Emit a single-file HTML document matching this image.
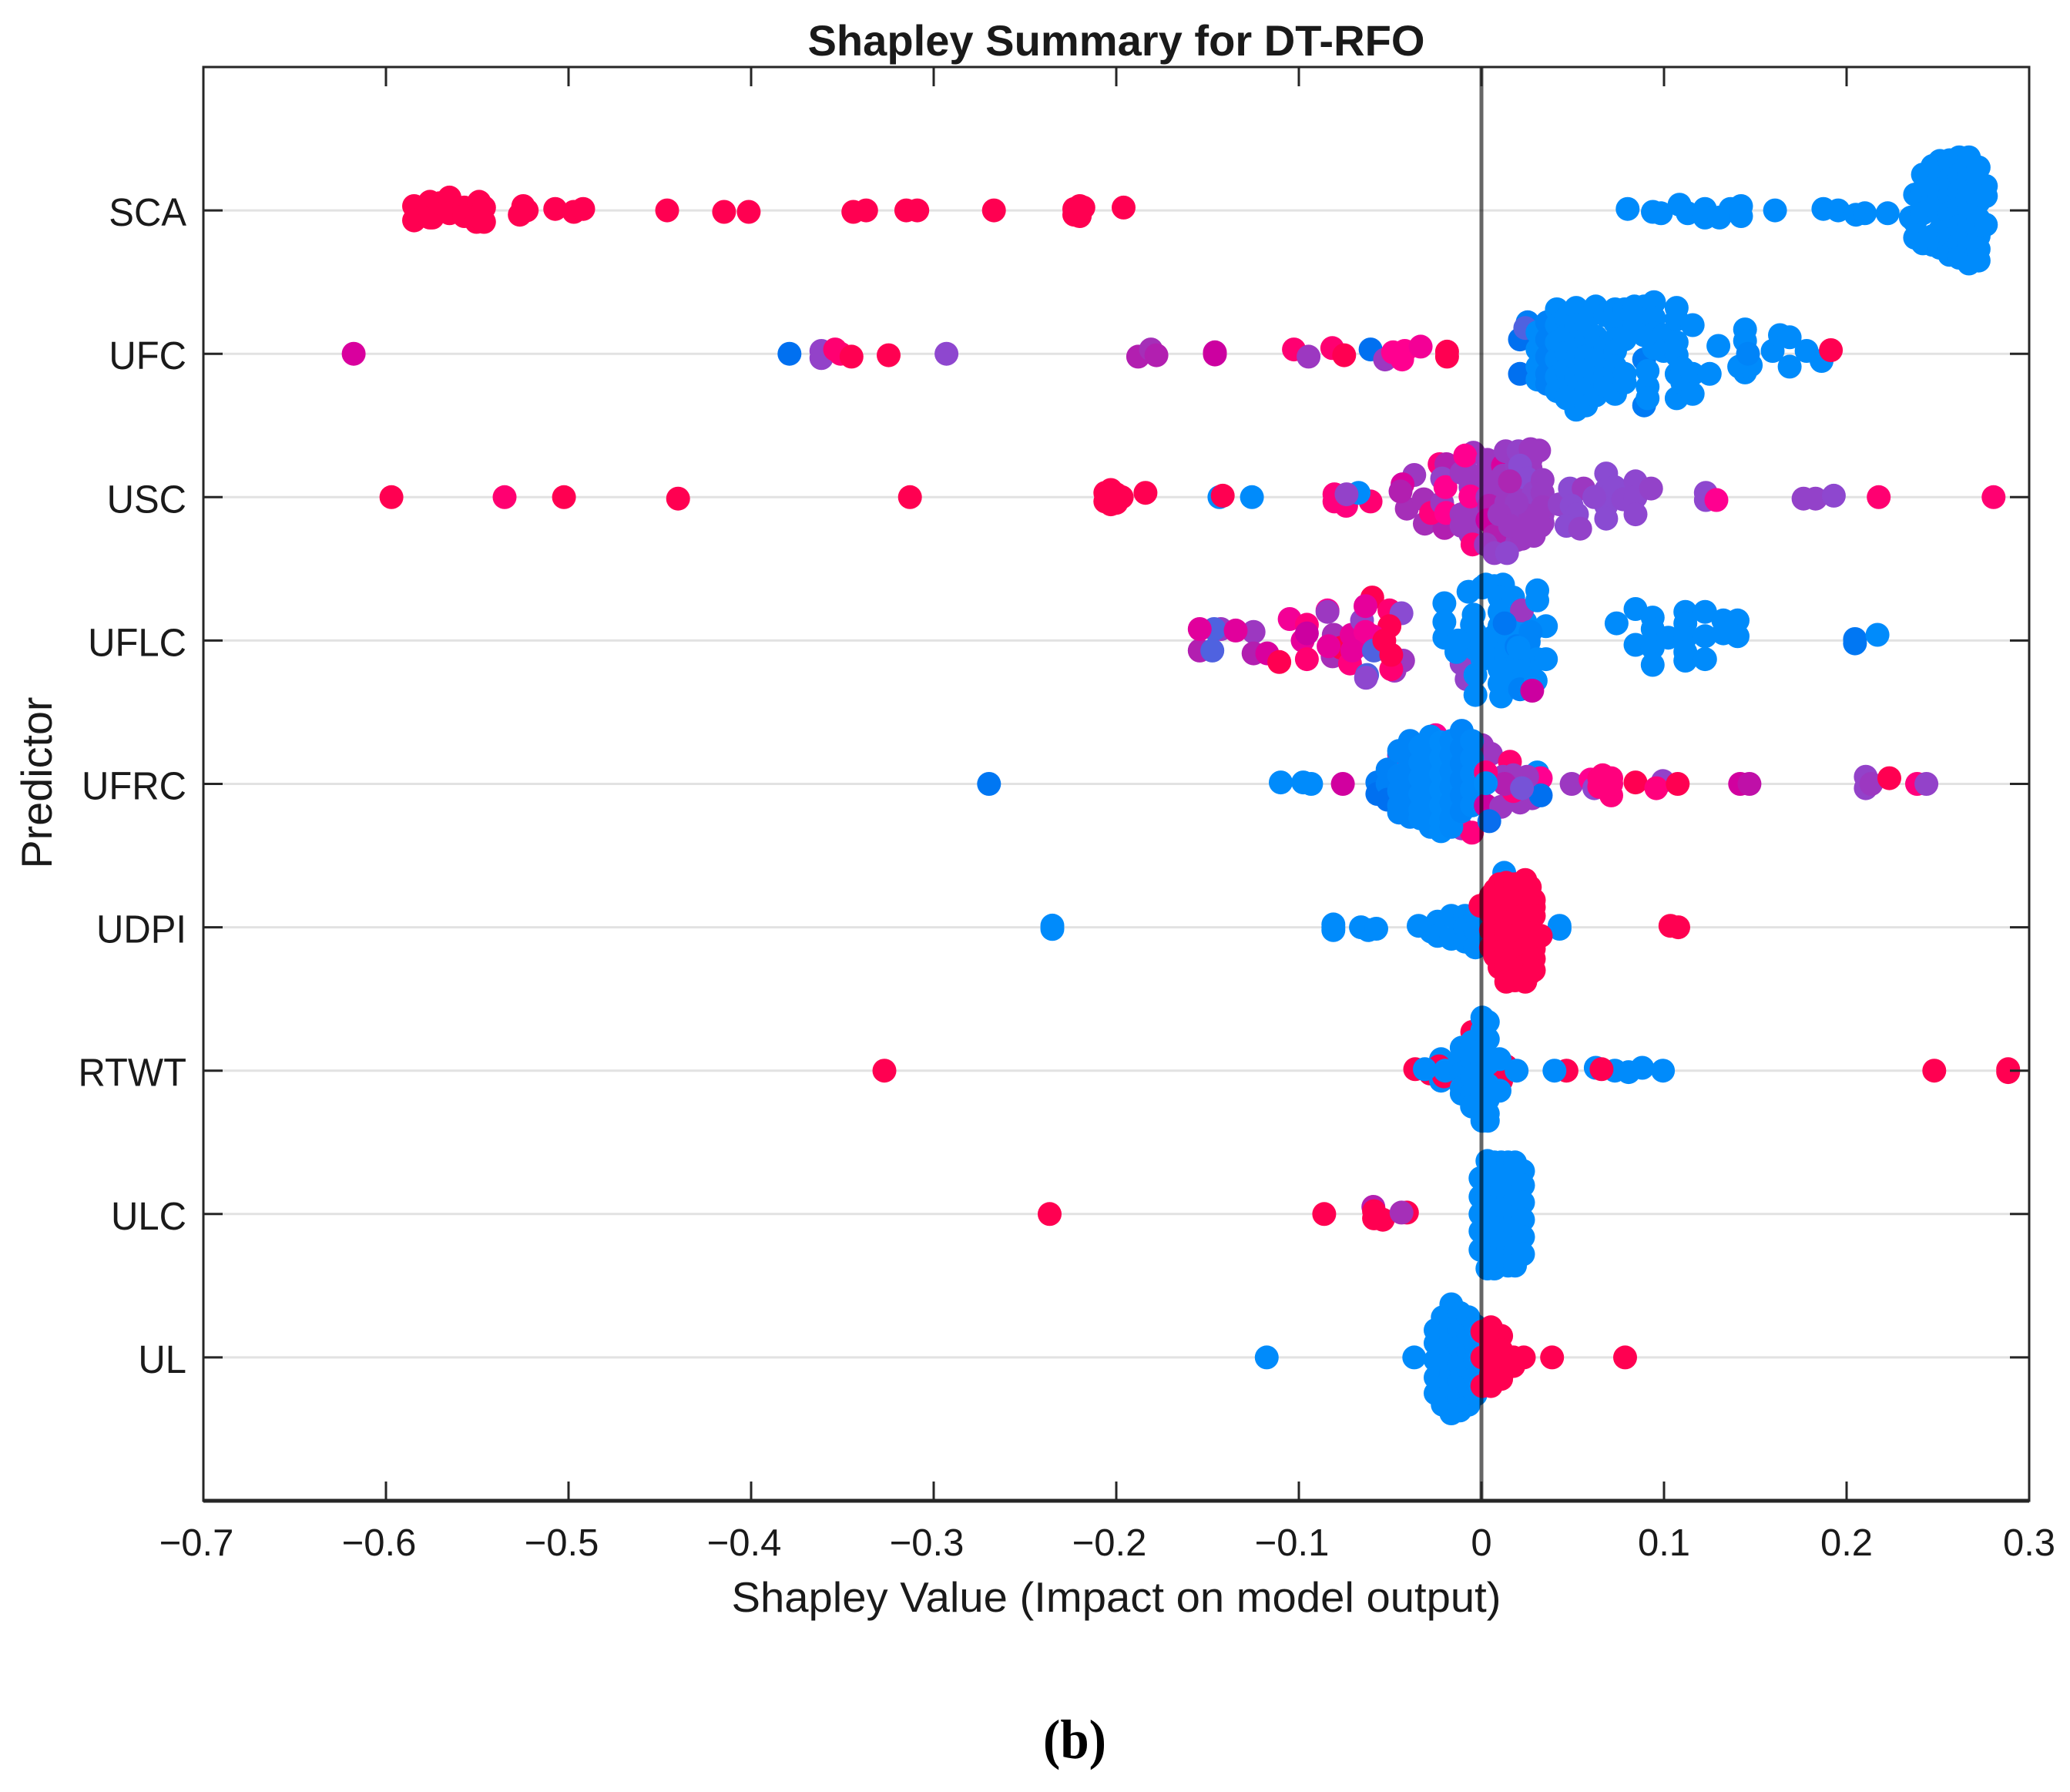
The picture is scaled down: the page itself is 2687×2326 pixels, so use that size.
<!DOCTYPE html>
<html lang="en">
<head>
<meta charset="utf-8">
<title>Shapley Summary for DT-RFO</title>
<style>
html,body{margin:0;padding:0;background:#fff;}
svg{display:block;}
text{font-family:"Liberation Sans",sans-serif;fill:#1a1a1a;}
</style>
</head>
<body>
<svg id="chart" xmlns="http://www.w3.org/2000/svg" width="2687" height="2326" viewBox="0 0 2687 2326">
<rect x="0" y="0" width="2687" height="2326" fill="#fff"/>
<text x="1449" y="72" text-anchor="middle" font-size="56" font-weight="700" textLength="801" lengthAdjust="spacingAndGlyphs">Shapley Summary for DT-RFO</text>
<text x="1449" y="2092" text-anchor="middle" font-size="55" textLength="999" lengthAdjust="spacingAndGlyphs">Shapley Value (Impact on model output)</text>
<text transform="translate(67,1016) rotate(-90)" text-anchor="middle" font-size="56" textLength="223" lengthAdjust="spacingAndGlyphs">Predictor</text>
<text x="1395" y="2282" text-anchor="middle" font-size="72" font-weight="700" textLength="82" lengthAdjust="spacingAndGlyphs" style="font-family:'Liberation Serif',serif;fill:#000">(b)</text>
<g id="grid"></g>
<g id="points"></g>
<g id="axes"></g>
</svg>
<script>
// Each entry: [shapley value, [vertical jitter in category units...], normalised feature value]
const categories = ["SCA","UFC","USC","UFLC","UFRC","UDPI","RTWT","ULC","UL"];
const xTicks = [-0.7,-0.6,-0.5,-0.4,-0.3,-0.2,-0.1,0,0.1,0.2,0.3];
const xTickLabels = ["\u22120.7","\u22120.6","\u22120.5","\u22120.4","\u22120.3","\u22120.2","\u22120.1","0","0.1","0.2","0.3"];

const valuesSCA = [
[-.5846,[.03,-.07],1],[-.5759,[.06,-.05],1],[-.5746,[-.05],1],[-.5705,[.05],1],[-.5652,[.09,-.02],1],[-.5571,[.02,-.04],1],[-.5490,[.06],1],[-.5463,[.02],1],[-.5504,[-.08],1],[-.5463,[-.08],1],
[-.5248,[.03],1],[-.5267,[-.03],1],[-.5229,[0],1],[-.5073,[.01],1],[-.4971,[-.01],1],[-.4920,[.01],1],[-.4460,[0],1],[-.4148,[-.01],1],[-.4013,[-.01],1],
[-.344,[-.01],1],[-.337,[0],1],[-.315,[0],1],[-.309,[0],1],[-.267,[0],1],[-.223,[.01,-.03],1],[-.220,[.03,-.04],1],[-.218,[.02],1],[-.196,[.02],1],
[.0801,[.01],0],[.0939,[-.01],0],[.0983,[-.02],0],[.1085,[.04],0],[.1130,[-.02],0],[.1224,[.01,-.05],0],[.1304,[-.05],0],[.1364,[.01],0],[.1422,[.03,-.04],0],[.1608,[0],0],
[.1873,[.01],0],[.1954,[0],0],[.2051,[-.03],0],[.21,[-.02],0],[.2225,[-.02],0],[.2352,[-.05],0],
[.2375,[.11,-.19,-.08],0],[.2418,[.25,.14,.04,-.02,-.23],0],[.2471,[.31,.18,.06,-.18,-.24],0],[.2511,[.345,.22,.1,-.03,-.14,-.26],0],[.2564,[.35,.22,.1,-.02,-.14,-.26,-.31],0],[.2617,[.37,.25,.13,.01,-.11,-.23,-.33],0],[.2670,[.37,.25,.13,.01,-.11,-.23,-.37],0],[.2723,[.30,.18,.06,-.06,-.18,-.27,-.35],0],[.2763,[.17,.1,-.1],0]
];
const valuesUFC = [
[-.6177,[0],.75],[-.379,[0],.08],[-.3615,[.02,-.03],.45],[-.354,[.03],.95],[-.351,[0],.95],[-.345,[-.02],1],[-.3247,[-.01],1],[-.293,[0],.42],
[-.188,[-.02],.6],[-.181,[.03],.55],[-.178,[-.01],.6],[-.146,[.01,-.005],.7],[-.1027,[.03],.95],[-.0947,[-.02],.5],[-.0817,[.04],.95],[-.0752,[-.01],1],
[-.0607,[.03],.08],[-.0528,[-.04],.5],[-.0484,[.01],.9],[-.0434,[-.04],.9],[-.042,[.02],.9],[-.0333,[.05],.85],[-.0188,[.015,-.02],1],
[.0211,[.10,-.14],.08],[.0253,[.22],.04],[.0240,[.18],.25],[.0307,[.15,.03,-.09,-.18],0],[.036,[.22,.1,-.02,-.14,-.21],.03],[.0413,[.31,.2,.08,-.04,-.16,-.26],0],[.0466,[.25,.13,.01,-.11,-.23,-.31],0],[.0519,[.32,.2,.08,-.04,-.16,-.28,-.39],0],[.0573,[.22,.1,-.02,-.14,-.26,-.36],0],[.0626,[.33,.12,-.05,-.17,-.29],0],[.0679,[.27,.05,-.13,-.22],0],[.0732,[.31,.22,.1,.02,-.09,-.18,-.28],0],[.0785,[.31,.1,-.14,-.2],0],[.0838,[.33,.2],0],[.0891,[.33,.24,.13],0],[.0891,[-.04,-.36],.05],[.0945,[.36,.25,.14,.04],0],[.0910,[-.12,-.23,-.31],0],[.0998,[.13,.02],0],[.1069,[.32,.24,.08,-.01,-.14,-.31],0],[.11,[-.1,-.2],0],[.1157,[.2,-.14,-.28],0],[.125,[-.14],0],[.1298,[.055],0],[.1444,[.17,.09,-.13],0],[.1412,[-.09],0],[.1475,[-.08],0],[.146,[0],.02],[.1595,[.02],0],[.1635,[.13],0],[.1688,[.115,-.09],0],[.1781,[.02],0],[.1863,[-.05],0],[.1914,[.025],1]
];
const valuesUSC = [
[-.597,[0],1],[-.535,[0],.95],[-.5025,[0],1],[-.44,[-.01],1],[-.313,[0],1],[-.206,[.03,-.03],1],[-.203,[.05,-.05],1],[-.2,[.02,-.04],1],[-.197,[0],1],[-.184,[.03],1],
[-.1435,[0],0],[-.1417,[.01],1],[-.1257,[0],0],[-.0805,[.02,-.03],.93],[-.0741,[-.06],.93],[-.0607,[-.03],.95],[-.0673,[.03],0],[-.0739,[.02],.45],
[-.0368,[.155],.5],[-.0409,[-.08],.55],[-.0316,[-.015],.55],[-.031,[-.185],.55],[-.0202,[-.215],.6],[-.0432,[.09],.75],[-.0443,[.04],.6],[-.0229,[.23],.93],[-.0192,[.23],.6],[-.0276,[-.11],.93],[-.0215,[.13],.45],[-.0215,[-.04],.5],[-.0193,[-.11],.9],[-.0197,[.07],.9],
[-.0044,[.31],.5],[-.006,[.155,.07,-.07,-.12,-.26],.5],[-.0081,[-.195],.5],[-.0109,[.17,-.12,-.2],.5],[-.0049,[-.33],.93],[-.0089,[.29],.9],[-.006,[.005],.9],
[.0033,[.26,.13,0,-.1],.5],[.0118,[.22],.75],[.0118,[.15,.0,-.1,-.2,-.3],.5],[.0133,[.32],.48],[.0193,[.22,.1,-.13,-.22,-.3],.48],[.0203,[.32],.45],[.0269,[.335,.26,.2,.12,-.03,-.13,-.22],.5],[.0316,[.325],.5],[.0212,[.22],.4],[.025,[.13],.4],[.0287,[.03],.45],[.0335,[.12,.03,-.12,-.18],.48],
[.0043,[-.06],.6],[.0033,[-.16],.7],[.0071,[-.27],.6],[.0024,[-.33],.5],[.0071,[-.39],.45],[.0136,[-.04],.5],[.0193,[-.04],.48],[.0098,[.09,-.12],.5],
[.0306,[-.12],.5],[.0287,[-.27],.5],[.0222,[-.29],.5],[.0156,[-.2],.5],[.0325,[-.2],.5],[.0335,[-.07],.5],[.0156,[.11],.58],[.0140,[-.39],.42],
[.0428,[-.05],.45],[.0485,[.06],.4],[.056,[.06],.5],[.0494,[-.06],.4],[.0523,[-.12],.4],[.0466,[-.2],.4],[.0541,[-.22],.45],[.0683,[.165,.05,-.06,-.15],.4],[.073,[.07],.4],[.0618,[0],.42],[.0777,[-.015],.42],[.0844,[.11,0,-.12],.42],[.0929,[.06],.45],
[.1229,[.03,-.02],.42],[.1287,[-.02],.9],[.1764,[-.01],.45],[.183,[-.01],.45],[.193,[.01],.42],[.2176,[0],.95],[.2805,[0],.95]
];
const valuesUFLC = [
[-.1543,[-.07],.6],[-.1427,[.08],.5],[-.1464,[.08],.25],[-.1474,[-.07],.25],[-.1543,[.08],.78],[-.1248,[.06],.5],[-.1248,[-.09],.6],[-.1346,[.07],.78],[-.1173,[-.09],.75],[-.1107,[-.15],1],[-.1050,[.15],.85],
[-.0956,[.11],.93],[-.0979,[0],.8],[-.0956,[-.13],.95],[-.0956,[.05],.7],[-.0843,[.21],.9],[-.0843,[.2],.5],[-.0809,[.04],.55],[-.0815,[-.11],.55],[-.0768,[-.05],1],[-.0837,[-.04],.8],[-.0711,[.04],.8],[-.0720,[-.16],.93],
[-.0598,[.3],1],[-.0654,[.14],.45],[-.0476,[-.21],.5],[-.0429,[-.14],.5],[-.0504,[.21],.95],[-.0438,[.19],.4],[-.0504,[.1],1],[-.0654,[-.03],.8],[-.0596,[.03],.85],[-.0635,[.06],.85],[-.0707,[-.07],.8],[-.0494,[-.2],.95],[-.0635,[.24],.8],[-.0589,[-.07],.25],[-.0532,[0],1],[-.0494,[-.1],1],[-.0626,[-.24],.25],[-.0632,[-.26],.42],
[-.0109,[-.16],.45],[-.0081,[-.27],.45],[-.0203,[.26,.13,.02],0],[-.0137,[-.08],0],[-.0071,[.34],0],[-.0042,[.18],0],[-.0052,[.11],0],[-.0033,[.05,-.06],0],[-.0128,[0],0],[.0005,[.37],0],[.0024,[.39],0],[.0071,[.38],0],[.0118,[.39],0],[.0136,[.29],0],[.0099,[.3,.2,.1,0,-.1,-.2,-.3],0],[.0174,[.3,.2,.1,0,-.1,-.2,-.3],0],[.024,[.13,.03,-.07,-.18,-.26],0],[.0071,[.03],0],[-.0033,[-.24,-.38],0],[.0108,[-.39,-.28],0],[.0118,[-.09],0],[.0005,[-.05,-.13],0],[.0118,[-.2],0],[.0222,[.21],.5],[.0127,[.12],.06],[.0193,[-.04],.04],[.0212,[-.34],.03],[.0306,[.35,.28],0],[.0353,[.1],0],[.0269,[.06],.02],[.0259,[-.01],.02],[.0306,[-.13],0],[.0353,[-.13],0],[.0297,[-.28],0],[.0203,[-.15,-.05],0],[.0278,[-.35],.7],
[.074,[.12],0],[.0844,[.22,-.03],0],[.0938,[.16,.08,-.05,-.17],0],[.1023,[.02],0],[.1117,[.2,.12,.02,-.08,-.14],0],[.1225,[.2,.03,-.13],0],[.1325,[.14,.05],0],[.1403,[.14,.03],0],[.2046,[.01,-.02],.06],[.2169,[.04],0]
];
const valuesUFRC = [
[-.2697,[0],.06],[-.1099,[.01],0],[-.0976,[.01],0],[-.0933,[0],0],[-.0759,[0],.72],
[-.0451,[.2],.5],[-.0251,[.34],.9],[-.0251,[-.16],.9],[-.0108,[-.31],.5],[.0003,[.27],.5],[.0052,[.21],.5],[.0156,[.155],.95],[-.0052,[-.34],.93],
[-.0570,[.01],.05],[-.0570,[-.07],.08],[-.0514,[.1,0],.03],[-.0514,[-.11],.08],[-.0451,[.23,.06,-.05,-.15,-.2],.02],[-.0391,[.3,.26,.15,.04,-.07,-.18,-.23],.02],[-.0334,[.26,.15,.04,-.07,-.18,-.24],.01],[-.0278,[.33,.22,.11,0,-.11,-.22,-.3],.01],[-.0221,[.29,.18,.07,-.04,-.15,-.26,-.33],0],[-.0165,[.3,.2,.09,-.02,-.13,-.24,-.3],.01],[-.0108,[.37,.25,.14,.03,-.08,-.19],.02],[-.0052,[.3,.18,.07,-.04,-.15],.01],
[.0024,[-.15],.7],[.0108,[-.16],.5],[.0212,[-.13],.5],[.0278,[-.1],.5],[.0175,[.06,-.1],.5],[.0306,[.08],0],[.0325,[.04],.9],[.0325,[-.08],.08],[.0118,[.05],.5],[.0175,[-.05],.93],[.0250,[.05],.5],[.0127,[0],.6],[.0222,[-.03],.35],[.0024,[.08],.93],[.0024,[.005],0],[.0043,[-.26],.1],
[.0494,[0],.5],[.0598,[.03],.9],[.0618,[-.03],.42],[.0645,[.04,-.02],.93],[.0664,[.06],.93],[.0682,[.02],.93],[.0711,[-.08,.0,.04],.93],[.0844,[.01],1],[.0994,[.02],.45],[.0958,[-.03],.93],[.1075,[0],1],
[.1417,[0],.72],[.1468,[0],.65],[.2105,[.05,-.03],.45],[.2135,[.0],.5],[.2234,[.04],1],[.2386,[0],.93],[.2437,[0],.45]
];
const valuesUDPI = [
[-.012,[.06],1],[-.235,[.012,-.012],0],[-.0811,[.02,-.02,0],0],[-.0660,[0],0],[-.0620,[-.02],0],[-.0576,[-.01],0],[-.0344,[.01],0],[-.0275,[-.03],0],[-.0240,[.04,-.06],0],[-.0165,[.08,-.08],0],[-.009,[.08,0,-.1],0],[-.0033,[.07,-.02,-.14],0],
[.0125,[.38],0],[.0428,[-.01,.01],0],[.1035,[.01],1],[.1078,[0],1],[-.0005,[.15],1],
[.0052,[.22,.1,-.02,-.14],1],[.0075,[.26,-.2],1],[.0099,[.3,.19,.07,-.05,-.17,-.28],1],[.0136,[.31,.2,.08,-.04,-.16,-.28,-.38],1],[.0183,[.3,.18,.06,-.06,-.18,-.3,-.37],1],[.024,[.33,.21,.09,-.03,-.15,-.27,-.38],1],[.0265,[.28,-.32],1],[.0287,[.19,.14,.08,-.04,-.1,-.15,-.22,-.3],1],[.0325,[-.06],1]
];
const valuesRTWT = [
[-.327,[0],1],[-.0363,[.01],1],[-.028,[-.02],1],[-.0221,[.08,-.07],0],[-.0232,[.03],1],[-.0205,[-.04],1],[-.031,[.01],0],[-.0198,[0],0],
[-.005,[.27],1],[.0136,[.03],1],[.0108,[-.07],1],
[-.0108,[.16,.08,-.02,-.12,-.16],0],[-.0052,[.2,.08,-.04,-.16,-.25],0],[.0005,[.37,.28,.17,.06,-.05,-.16,-.27,-.35],0],[.0035,[.34,.22,.05,-.1,-.2,-.3,-.35],0],[.0099,[.08,-.14],0],[.0193,[0],0],
[.0466,[0],1],[.04,[0],0],[.0626,[.02],0],[.0731,[0],0],[.0806,[-.01],0],[.0881,[.02],0],[.0994,[0],0],[.0658,[.01],1],[.248,[0],1],[.2885,[.01,-.01],1]
];
const valuesULC = [
[-.2365,[0],1],[-.0861,[0],1],[-.0592,[.05],.6],[-.0588,[-.03,.02],1],[-.0540,[-.04],1],[-.0408,[.01],1],[-.0438,[.01],.55],
[-.0005,[.25,.12,0,-.12,-.25],0],[.0033,[.37,.24,.12,0,-.12,-.24,-.38],0],[.0071,[.36,.28,.2,.13,.06,0,-.06,-.13,-.2,-.28,-.38],0],[.0108,[.36,.3,.16,.1,.04,-.02,-.08,-.14,-.2,-.26,-.33],0],[.0146,[.36,.24,.12,0,-.12,-.24,-.36],0],[.0184,[.36,.24,.1,-.02,-.14,-.26,-.36],0],[.0228,[.3,.2,.08,-.04,-.16,-.28],0]
];
const valuesUL = [
[-.1176,[0],0],[-.0368,[0],0],
[-.0251,[.19,.1,-.02,-.14,-.25],0],[-.0212,[.28,.15,.03,-.09,-.21,-.33],0],[-.0165,[.37,.25,.13,.01,-.11,-.23,-.35,-.39],0],[-.0118,[.31,.19,.07,-.05,-.17,-.29,-.37],0],[-.0071,[.28,.16,.04,-.08,-.2,-.32,-.33],0],[-.0033,[.22,.1,-.02,-.14,-.26],0],
[.0005,[.18,0,-.2],1],[.0052,[.21,.1,0,-.12,-.2],1],[.0108,[.15,.05,-.05,-.15],1],[.0175,[0,-.06],1],[.0232,[0],1],[.0387,[0],1],[.0787,[0],1]
];
const seriesValues = [valuesSCA,valuesUFC,valuesUSC,valuesUFLC,valuesUFRC,valuesUDPI,valuesRTWT,valuesULC,valuesUL];

const NS = "http://www.w3.org/2000/svg";
const plot = {left:264, right:2634, top:87, bottom:1948, xMin:-0.7, xMax:0.3, yMin:0, yMax:10};
function xScale(v){ return plot.left + (v-plot.xMin)/(plot.xMax-plot.xMin)*(plot.right-plot.left); }
function yScale(v){ return plot.bottom - (v-plot.yMin)/(plot.yMax-plot.yMin)*(plot.bottom-plot.top); }
function colorScale(f){
  const s=[[0,0,139,251],[.08,0,112,240],[.25,79,98,224],[.4,138,75,210],[.55,165,47,184],[.7,204,0,160],[.8,230,0,155],[.9,255,0,144],[1,255,0,81]];
  for(let i=1;i<s.length;i++){
    if(f<=s[i][0]){
      const t=(f-s[i-1][0])/(s[i][0]-s[i-1][0]);
      return "rgb("+[1,2,3].map(function(k){return Math.round(s[i-1][k]+t*(s[i][k]-s[i-1][k]));}).join(",")+")";
    }
  }
  return "rgb(255,0,81)";
}
function make(tag,attrs,parent){
  const el=document.createElementNS(NS,tag);
  for(const k in attrs){ el.setAttribute(k,attrs[k]); }
  parent.appendChild(el);
  return el;
}
const gridG=document.getElementById("grid"), pointsG=document.getElementById("points"), axesG=document.getElementById("axes");

categories.forEach(function(name,i){
  const rowValue=categories.length-i, y=yScale(rowValue);
  const line=make("line",{x1:plot.left,x2:plot.right,y1:y,y2:y,stroke:"#e2e2e2","stroke-width":3},gridG);
  
  
  const group=make("g",{},pointsG);
  
  
  seriesValues[i].forEach(function(entry){
    entry[1].forEach(function(jit){
      const c=make("circle",{cx:xScale(entry[0]).toFixed(1),cy:yScale(rowValue+jit).toFixed(1),r:15.5,fill:colorScale(entry[2])},group);
      
      
    });
  });
  [[plot.left,plot.left+25],[plot.right-25,plot.right]].forEach(function(p,side){
    const t=make("line",{x1:p[0],x2:p[1],y1:y,y2:y,stroke:"#262626","stroke-width":3},axesG);
    
    
  });
  const lab=make("text",{x:242,y:y+20,"text-anchor":"end","font-size":51,lengthAdjust:"spacingAndGlyphs"},axesG);
  lab.textContent=name;
  lab.setAttribute('textLength', (lab.getComputedTextLength()*0.96).toFixed(1));
  
  
});

const zero=make("line",{x1:xScale(0),x2:xScale(0),y1:plot.top,y2:plot.bottom,stroke:"#000","stroke-opacity":.6,"stroke-width":5},axesG);



xTicks.forEach(function(v,i){
  const x=xScale(v);
  if(i>0&&i<xTicks.length-1){
    [[plot.top,plot.top+25],[plot.bottom-25,plot.bottom]].forEach(function(p,side){
      const t=make("line",{x1:x,x2:x,y1:p[0],y2:p[1],stroke:"#262626","stroke-width":3},axesG);
      
      
    });
  }
  const lab=make("text",{x:v<0?x-9:x,y:2019,"text-anchor":"middle","font-size":49},axesG);
  lab.textContent=xTickLabels[i];
  
  
});

const frame=make("rect",{x:plot.left,y:plot.top,width:plot.right-plot.left,height:plot.bottom-plot.top,fill:"none",stroke:"#262626","stroke-width":3},axesG);


const base=make("line",{x1:plot.left,x2:plot.right,y1:plot.bottom,y2:plot.bottom,stroke:"#262626","stroke-width":5},axesG);


</script>
</body>
</html>
